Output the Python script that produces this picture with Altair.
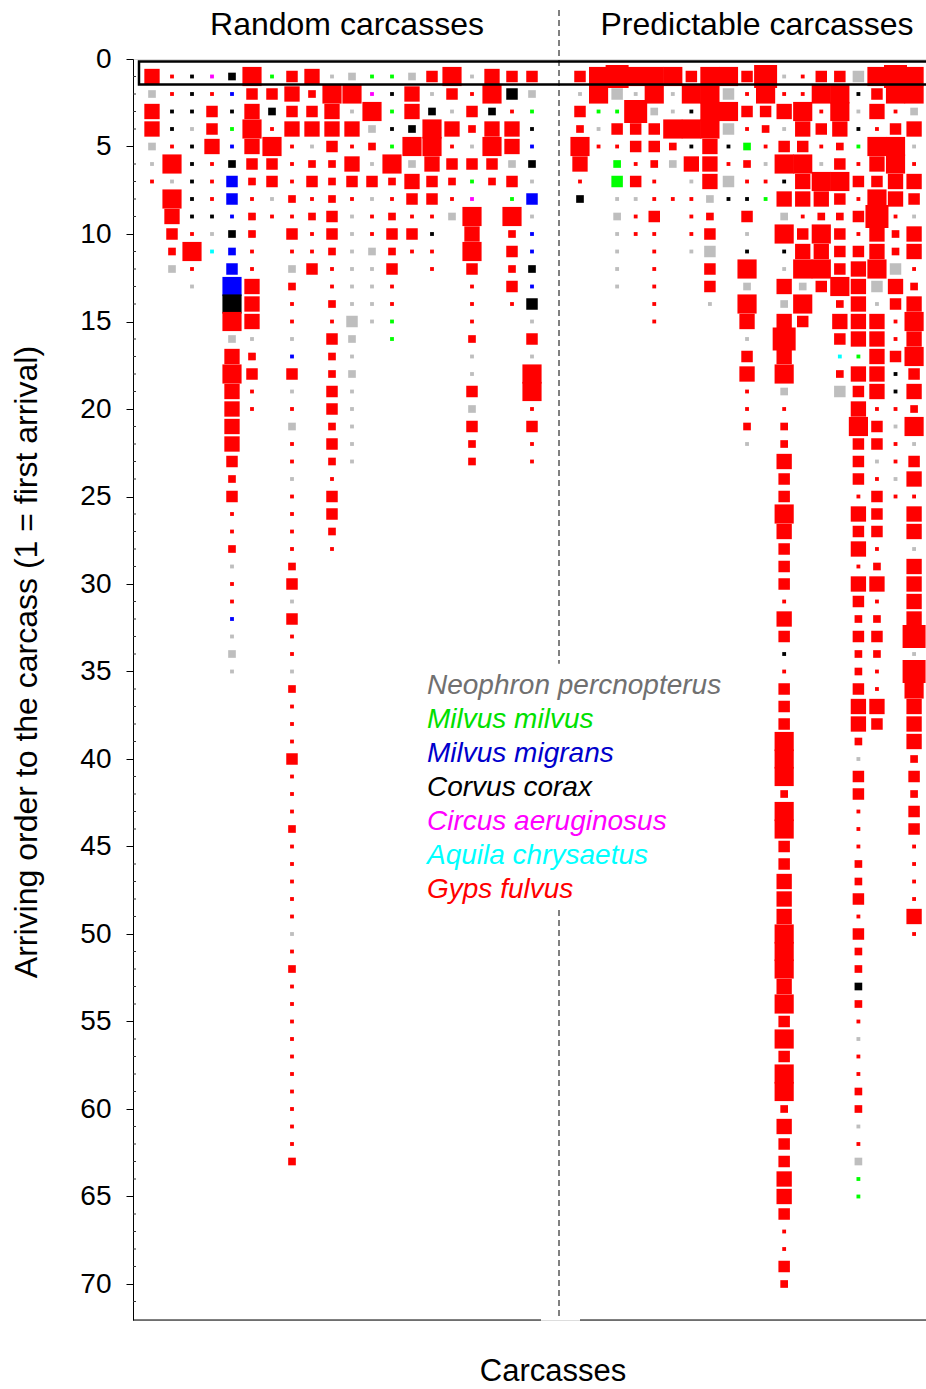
import altair as alt
import pandas as pd

# ---------------- data ----------------
SPECIES_CODES = ["n", "m", "k", "c", "a", "q", "g"]
SPECIES_NAMES = ["Neophron percnopterus", "Milvus milvus", "Milvus migrans",
                 "Corvus corax", "Circus aeruginosus", "Aquila chrysaetus", "Gyps fulvus"]
SQUARE_COLORS = ["#BEBEBE", "#00FF00", "#0000FF", "#000000", "#FF00FF", "#00FFFF", "#FF0000"]
TEXT_COLORS = ["#707070", "#00E000", "#0000CC", "#000000", "#FF00FF", "#00FFFF", "#FF0000"]

# each carcass: arrival order 1, 2, 3 ... ; token = species code + size class ("." = none)
RANDOM = [
    "g4 n2 g4 g4 n2 n1 g1",
    "g1 g1 c1 c1 g1 g5 n1 g5 g4 g3 g2 n2",
    "c1 c1 c1 n1 c1 c1 c1 c1 c1 g1 g5 g1 n1",
    "a1 g1 g3 g3 g4 g1 g1 g1 c1 n1 q1",
    "c2 k1 c1 m1 k1 c2 k3 k3 k1 c2 k2 k3 k5 c5 g5 n2 g4 g5 g4 g4 g4 g4 g3 g2 g3 g1 g1 g2 n1 g1 g1 k1 n1 n2 n1",
    "g5 g3 g4 g5 g4 g3 g2 g1 g2 g2 g1 g1 g4 g4 g4 n1 g2 g3 g1 g1",
    "m1 g3 c2 g1 g5 g3 g3 n1 g1",
    "g3 g4 g3 g4 g1 g1 g1 g2 g1 g3 g1 n2 g2 g1 g1 n1 k1 g3 n1 g1 n2 g1 g1 n1 g1 g1 g1 g1 g2 g3 "
    "n1 g3 g1 g1 n1 g2 g1 g1 g1 g3 g1 g1 g1 g2 g1 g1 g1 g1 g1 n1 g1 g2 g1 g1 g1 g1 g1 g1 g1 g1 g1 g1 g2",
    "g4 g2 g3 g4 n1 g2 g3 g1 g2 g1 g1 g3",
    "n1 g5 g4 g4 g3 g2 g2 g2 g3 g3 g2 g1 g1 g2 g1 g3 g2 g2 g3 g3 g2 g3 g2 g1 g3 g3 g2 g1",
    "n2 g5 n1 g4 g1 g4 g3 g1 n1 n1 n1 n1 n1 n1 n3 n2 n1 n2 n1 n1 n1 n1 n1",
    "m1 a1 g5 n2 g2 n1 g3 n1 g1 g1 n2 n1 n1 n1 n1",
    "m1 c1 m1 c1 m1 g5 g2 g1 g2 g3 g2 g3 g1 g1 m1 m1",
    "n2 g4 g4 c2 g5 n2 g4 g3 g1 g3 g1",
    "g3 n1 c2 g5 g5 g4 g3 g3 g1 c1 g1 g1",
    "g5 g3 n1 g4 g1 g3 g2 g1 n2",
    "n1 g1 g3 g2 n1 g3 m1 a1 g5 g4 g5 g3 g1 g1 g1 g2 n1 n1 g3 n2 g3 g2 g2",
    "g4 g5 c2 g4 g5 g3 g2",
    "g3 c3 g1 g4 g4 n2 g3 m1 g5 g2 g3 g2 g3 g1",
    "g3 n2 m1 c1 k1 c2 n1 k3 n1 k1 k1 c2 k1 c3 n1 g3 n1 g5 g5 g1 g3 g1 g1",
]

PREDICTABLE = [
    "g3 n1 g3 g2 g5 g4 g1 c2",
    "g5 g5 m1 n1 g1",
    "g6 n3 m1 g3 g1 m2 m3 n1 n2 n1 n1 n1 n1",
    "g5 n1 g6 g3 g3 g1 g3 n1 g1 g1",
    "g5 g5 n2 g3 g3 g2 g1 g1 g3 g1 g1 g1 g1 g1 g1",
    "g5 n1 n1 g5 g2 n2 . g1",
    "g3 g5 c1 g5 c1 g4 n1 g1 g1 g1 n1",
    "g5 g5 g5 g5 g4 g4 g4 n2 g2 g3 n3 g3 g3 n1",
    "g5 n3 g5 n3 c1 g1 n3 c1",
    "g3 g1 g3 g1 m2 g2 g1 c1 g3 n1 c1 g5 n2 g5 g4 n1 g3 g4 g1 g1 g2 n1",
    "g6 g5 g3 g2 g1 n1 g1 m1",
    "n1 g1 g4 n1 g3 g5 c1 g4 n2 g5 c1 n1 g4 n2 g4 g6 g4 g5 n2 g1 g2 g2 g4 g3 g3 "
    "g5 g4 g3 g3 g3 g1 g4 g3 c1 g1 g3 g3 g3 g5 g5 g5 "
    "g2 g5 g5 g3 g3 g4 g4 g4 g5 g5 g5 g4 g5 g3 g5 g3 g5 "
    "g5 g2 g4 g3 g3 g4 g4 g3 g1 g1 g3 g2",
    "g1 g1 g5 g4 g3 g5 g4 g4 g1 g3 g4 g5 n2 g5 g3",
    "g3 g5 g1 g3 g1 n1 g5 g4 g2 g5 g4 g5 g3",
    "g3 g5 g5 g4 g2 g3 g5 g3 g2 g3 g3 g3 g5 g2 g4 g3 q1 g2 n3",
    "n3 c1 n1 c1 m1 g1 g3 g1 g3 g1 g3 "
    "g4 g4 g4 g4 g4 m1 g4 g3 g4 g5 g3 g3 g3 g1 "
    "g4 g3 g4 g1 g4 g3 g2 g3 g2 g2 g3 g4 g4 g2 n1 g3 "
    "g3 g1 g1 g1 g2 g2 g3 g1 g3 g2 g2 c2 g2 g1 n1 g1 g1 "
    "g2 g2 n1 g1 n2 m1 m1",
    "g5 g3 g4 g1 g5 g4 g3 g5 g6 g4 g4 g5 n3 n1 g4 g4 g4 g4 g4 g1 g3 g3 n1 g1 g3 g3 g3 g1 g2 g4 "
    "g1 g2 g3 g2 g1 g1 g4 g3",
    "g6 g5 g1 g3 g5 g5 g4 g4 g1 g2 g2 n3 g4 g3 g1 g1 g3 c1 c1 g1 n1 g1 g1 n1 g1",
    "g5 g5 n2 g4 n1 g1 g4 g3 n1 g4 g4 g1 g2 g4 g5 g4 g5 g3 g4 g2 g5 n1 g3 g4 g1 g4 g4 n1 g4 g4 "
    "g4 g4 g6 n1 g6 g5 g4 g4 g4 g2 g3 g2 g3 g3 g1 g1 g1 g1 g4 g1",
]

Y_TICKS = list(range(0, 71, 5))
Y_MINOR = [v for v in range(1, 72) if v % 5 != 0]
GROUP_TITLES = ["Random carcasses", "Predictable carcasses"]

# ---------------- table ----------------
name_of = dict(zip(SPECIES_CODES, SPECIES_NAMES))
rows = []
for group, cols in (("Random", RANDOM), ("Predictable", PREDICTABLE)):
    for ci, col in enumerate(cols, start=1):
        for order, tok in enumerate(col.split(), start=1):
            if tok == ".":
                continue
            rows.append({"group": group, "carcass": ci, "order": order,
                         "species": name_of[tok[0]], "level": int(tok[1:])})
df = pd.DataFrame(rows)

# ---------------- layout ----------------
W, H = 793, 1261
PX_X, PX_Y = 20.0, 17.5          # pixels per x unit / per arrival step
XMIN = 0.05
XMAX = XMIN + W / PX_X
YMAX = H / PX_Y
FONT = "Liberation Sans"

xs = alt.Scale(domain=[XMIN, XMAX], nice=False, zero=False)
ys = alt.Scale(domain=[0, YMAX], reverse=True, nice=False, zero=False)

pts = alt.Chart(df).transform_calculate(
    pos="datum.group == 'Random' ? datum.carcass : 22.4 + (datum.carcass - 1) * 0.928"
).mark_square(opacity=1, strokeWidth=0).encode(
    x=alt.X("pos:Q", scale=xs, axis=None),
    y=alt.Y("order:Q", scale=ys,
            axis=alt.Axis(values=Y_TICKS, title=None, labelFontSize=28, labelFont=FONT,
                          labelColor="black", tickColor="black", domainColor="black",
                          tickSize=7, tickWidth=1, domainWidth=1, labelPadding=15,
                          grid=False)),
    color=alt.Color("species:N", scale=alt.Scale(domain=SPECIES_NAMES, range=SQUARE_COLORS), legend=None),
    size=alt.Size("level:Q", scale=alt.Scale(type="pow", exponent=2, domain=[0, 6], range=[0, 529]),
                  legend=None),
)

# small inward minor ticks on the y axis
minor = alt.Chart(pd.DataFrame({"y": Y_MINOR})).transform_calculate(
    x0=str(XMIN), x1=str(XMIN + 3 / PX_X)
).mark_rule(color="#333333", strokeWidth=1).encode(
    x=alt.X("x0:Q", scale=xs), x2="x1:Q", y=alt.Y("y:Q", scale=ys)
)

# frame around the first arrivals
box = alt.Chart(pd.DataFrame({"x": [0.35], "x2": [XMAX + 0.5], "y": [0.14], "y2": [1.46]})).mark_rect(
    fill=None, stroke="black", strokeWidth=2.5
).encode(x=alt.X("x:Q", scale=xs), x2="x2:Q", y=alt.Y("y:Q", scale=ys), y2="y2:Q")

# broken x axis line
xline = alt.Chart(pd.DataFrame({"x": [XMIN, 22.4], "x2": [20.45, XMAX], "y": [YMAX, YMAX]})).mark_rule(
    color="black", strokeWidth=1
).encode(x=alt.X("x:Q", scale=xs), x2="x2:Q", y=alt.Y("y:Q", scale=ys))

# dashed separator
sep = alt.Chart(pd.DataFrame({"x": [21.35], "y": [-2.8], "y2": [YMAX]})).mark_rule(
    color="black", strokeWidth=1, strokeDash=[6, 4]
).encode(x=alt.X("x:Q", scale=xs), y=alt.Y("y:Q", scale=ys), y2="y2:Q")

# group titles
titles = alt.Chart(pd.DataFrame({"t": GROUP_TITLES, "x": [10.75, 31.25], "y": [-1.94, -1.94]})).mark_text(
    fontSize=32, font=FONT, color="black", align="center", baseline="middle"
).encode(x=alt.X("x:Q", scale=xs), y=alt.Y("y:Q", scale=ys), text="t:N")

# axis titles
ytitle = alt.Chart(pd.DataFrame({"t": ["Arriving order to the carcass (1 = first arrival)"],
                                 "x": [-5.25], "y": [34.46]})).mark_text(
    fontSize=32, font=FONT, color="black", align="center", baseline="middle", angle=270
).encode(x=alt.X("x:Q", scale=xs), y=alt.Y("y:Q", scale=ys), text="t:N")

xtitle = alt.Chart(pd.DataFrame({"t": ["Carcasses"], "x": [21.05], "y": [75.0]})).mark_text(
    fontSize=31, font=FONT, color="black", align="center", baseline="middle"
).encode(x=alt.X("x:Q", scale=xs), y=alt.Y("y:Q", scale=ys), text="t:N")

# species key (white background hides the separator)
keybg = alt.Chart(pd.DataFrame({"x": [14.4], "x2": [29.8], "y": [34.55], "y2": [48.4]})).mark_rect(
    fill="white", stroke=None
).encode(x=alt.X("x:Q", scale=xs), x2="x2:Q", y=alt.Y("y:Q", scale=ys), y2="y2:Q")

leg = pd.DataFrame({"species": SPECIES_NAMES,
                    "x": [14.75] * 7,
                    "y": [35.85 + i * 1.935 for i in range(7)]})
legend = alt.Chart(leg).mark_text(
    fontSize=28, font=FONT, fontStyle="italic", align="left", baseline="middle"
).encode(
    x=alt.X("x:Q", scale=xs), y=alt.Y("y:Q", scale=ys), text="species:N",
    color=alt.Color("species:N", scale=alt.Scale(domain=SPECIES_NAMES, range=TEXT_COLORS), legend=None),
)

chart = alt.layer(pts, minor, box, xline, sep, keybg, titles, ytitle, xtitle, legend).resolve_scale(
    color="independent"
).properties(
    width=W, height=H,
    autosize=alt.AutoSizeParams(type="none"),
    padding={"left": 133, "top": 59, "right": 0, "bottom": 69},
).configure_view(stroke=None).configure(background="white")

chart.save("out.html", embed_options={"renderer": "svg", "actions": False})
